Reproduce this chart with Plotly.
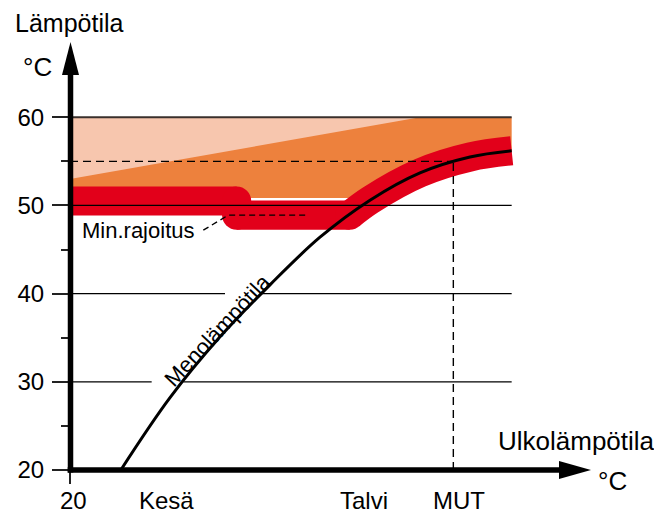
import numpy as np
import plotly.graph_objects as go

# ---------------- data ----------------
# heating curve: outdoor temperature (°C) -> supply temperature (°C)
curve_out = [13.9, 8.0, 2.0, -4.0, -10.0, -16.0, -22.0, -28.0, -33.0]
curve_temp = [20.0, 28.2, 35.1, 41.0, 46.4, 50.6, 53.7, 55.5, 56.2]

# minimum limitation (summer / winter) and band half width
min_summer = 50.5
min_winter = 48.9
step_out = 0.0
band_half = 1.65

# boundary between light and dark orange zones
slope_out = [20.0, -22.0]
slope_temp = [53.0, 60.0]
orange_floor = 50.85
top_temp = 60.0
x_end = -33.0

# design point (MUT)
mut_out = -26.0
mut_temp = 55.0

# y ticks
y_major = [20, 30, 40, 50, 60]
y_minor = [25, 35, 45, 55]
grid_levels = [30, 40, 50]
# gaps in gridlines behind the curve label
grid_gap_start = {30: 10.2, 40: 1.4}
grid_gap_end = {30: 6.4, 40: -3.0}

x_labels = ["Kesä", "Talvi", "MUT"]
x_label_pos = [8.4, -15.3, -26.7]

# min.limit leader line
leader_out = [4.0, 1.0, -8.6]
leader_temp = [47.2, 48.9, 48.9]

# ---------------- layout geometry ----------------
# (the page body has an 8px margin; the figure is shrunk/shifted to compensate)
OFF = 8
W, H = 662 - OFF, 515 - OFF
L, T = 70 - OFF, 82 - OFF
PW, PH = 500, 388
R, B = W - L - PW, H - T - PH
x_range = [20, -40]
y_range = [20, 64]
px_per_deg_y = PH / (y_range[1] - y_range[0])


def px(x):  # reference-pixel x -> paper
    return (x - OFF - L) / PW


def py(y):  # reference-pixel y -> paper
    return (T + PH + OFF - y) / PH


FONT = "Liberation Sans, Arial, Helvetica, sans-serif"
RED = "#E2001A"
ORANGE = "#ED813D"
PEACH = "#F7C6AE"

fig = go.Figure()

# intersection of curve with the winter minimum
x_join = float(np.interp(min_winter, curve_temp, curve_out))
after_out = [o for o in curve_out if o < x_join]
after_temp = [t for o, t in zip(curve_out, curve_temp) if o < x_join]

# orange zone
fig.add_trace(go.Scatter(
    x=[20, x_join] + after_out + [x_end, 20],
    y=[orange_floor, orange_floor] + after_temp + [top_temp, top_temp],
    fill="toself", fillcolor=ORANGE, line=dict(width=0), mode="lines",
    hoverinfo="skip", showlegend=False))

# light zone
fig.add_trace(go.Scatter(
    x=[slope_out[0], slope_out[1], slope_out[0]],
    y=[slope_temp[0], slope_temp[1], top_temp],
    fill="toself", fillcolor=PEACH, line=dict(width=0), mode="lines",
    hoverinfo="skip", showlegend=False))

# red band (min limitation + curve tolerance), drawn as segments + round joins
band_w = 2 * band_half * px_per_deg_y
segments = [
    ([20.5, step_out], [min_summer, min_summer], "linear"),
    ([step_out, step_out], [min_summer, min_winter], "linear"),
    ([step_out, x_join], [min_winter, min_winter], "linear"),
    ([x_join] + after_out, [min_winter] + after_temp, "spline"),
]
for sx, sy, shp in segments:
    fig.add_trace(go.Scatter(x=sx, y=sy, mode="lines",
                             line=dict(color=RED, width=band_w, shape=shp, smoothing=1.0),
                             hoverinfo="skip", showlegend=False))
fig.add_trace(go.Scatter(
    x=[step_out, step_out, x_join], y=[min_summer, min_winter, min_winter], mode="markers",
    marker=dict(color=RED, size=band_w, line=dict(width=0)),
    hoverinfo="skip", showlegend=False))

# heating curve
fig.add_trace(go.Scatter(
    x=curve_out, y=curve_temp, mode="lines",
    line=dict(color="black", width=3, shape="spline", smoothing=1.0),
    hoverinfo="skip", showlegend=False))

shapes = []
# gridlines
for lv in grid_levels:
    if lv in grid_gap_start:
        segs = [(20, grid_gap_start[lv]), (grid_gap_end[lv], x_end)]
    else:
        segs = [(20, x_end)]
    for a, b in segs:
        shapes.append(dict(type="line", xref="x", yref="y", x0=a, x1=b, y0=lv, y1=lv,
                           line=dict(color="black", width=1.3), layer="above"))
shapes.append(dict(type="line", xref="x", yref="y", x0=20, x1=x_end, y0=top_temp, y1=top_temp,
                   line=dict(color="#3a302c", width=2), layer="above"))

# dashed design lines
shapes.append(dict(type="line", xref="x", yref="y", x0=20, x1=mut_out, y0=mut_temp, y1=mut_temp,
                   line=dict(color="black", width=1.4, dash="8px,5px"), layer="above"))
shapes.append(dict(type="line", xref="x", yref="y", x0=mut_out, x1=mut_out, y0=20, y1=mut_temp,
                   line=dict(color="black", width=1.4, dash="8px,5px"), layer="above"))

# axes with arrows
shapes.append(dict(type="line", xref="paper", yref="paper", x0=px(70.5), x1=px(70.5),
                   y0=py(472.5), y1=py(74), line=dict(color="black", width=5.5), layer="above"))
shapes.append(dict(type="line", xref="paper", yref="paper", x0=px(67.7), x1=px(562),
                   y0=py(470), y1=py(470), line=dict(color="black", width=5.5), layer="above"))
shapes.append(dict(type="path", xref="paper", yref="paper",
                   path=f"M {px(62)} {py(75)} L {px(70.5)} {py(42)} L {px(79)} {py(75)} Z",
                   fillcolor="black", line=dict(width=0), layer="above"))
shapes.append(dict(type="path", xref="paper", yref="paper",
                   path=f"M {px(559)} {py(461)} L {px(591)} {py(470)} L {px(559)} {py(479)} Z",
                   fillcolor="black", line=dict(width=0), layer="above"))

fig.add_trace(go.Scatter(
    x=leader_out, y=leader_temp, mode="lines",
    line=dict(color="black", width=1.4, dash="6px,4px"),
    hoverinfo="skip", showlegend=False))

ann = []
ann.append(dict(text="Lämpötila", xref="paper", yref="paper", x=px(13), y=py(23),
                xanchor="left", yanchor="middle", showarrow=False, font=dict(size=25)))
ann.append(dict(text="°C", xref="paper", yref="paper", x=px(37), y=py(67),
                xanchor="center", yanchor="middle", showarrow=False, font=dict(size=26)))
ann.append(dict(text="Ulkolämpötila", xref="paper", yref="paper", x=px(657), y=py(441),
                xanchor="right", yanchor="middle", showarrow=False, font=dict(size=26)))
ann.append(dict(text="°C", xref="paper", yref="paper", x=px(612), y=py(481),
                xanchor="center", yanchor="middle", showarrow=False, font=dict(size=26)))
ann.append(dict(text="20", xref="x", yref="paper", x=20, xshift=3, y=py(500.5),
                xanchor="center", yanchor="middle", showarrow=False, font=dict(size=24)))
for lab, pos in zip(x_labels, x_label_pos):
    ann.append(dict(text=lab, xref="x", yref="paper", x=pos, y=py(500.5),
                    xanchor="center", yanchor="middle", showarrow=False, font=dict(size=24)))
ann.append(dict(text="Min.rajoitus", xref="x", yref="y", x=18.8, y=47.2,
                xanchor="left", yanchor="middle", showarrow=False, font=dict(size=22)))
ann.append(dict(text="Menolämpötila", xref="x", yref="y", x=2.3, y=35.8, textangle=-47,
                xanchor="center", yanchor="middle", showarrow=False, font=dict(size=22)))

fig.update_layout(
    width=W, height=H, margin=dict(l=L, r=R, t=T, b=B, autoexpand=False),
    paper_bgcolor="white", plot_bgcolor="white",
    font=dict(family=FONT, color="black"),
    shapes=shapes, annotations=ann, showlegend=False,
    xaxis=dict(range=x_range, showgrid=False, zeroline=False, showline=False,
               automargin=False, showticklabels=False,
               tickmode="array", tickvals=[20], ticks="outside",
               ticklen=13, tickwidth=1.5, tickcolor="#222", fixedrange=True),
    yaxis=dict(range=y_range, showgrid=False, zeroline=False, showline=False,
               automargin=False,
               tickmode="array", tickvals=y_major, ticks="outside",
               ticklen=17, tickwidth=1.5, tickcolor="#222", tickfont=dict(size=24),
               ticklabelstandoff=3,
               minor=dict(tickmode="array", tickvals=y_minor, ticks="outside", ticklen=8,
                          tickwidth=1.5, tickcolor="#222"),
               fixedrange=True),
)

fig.write_html("out.html")
